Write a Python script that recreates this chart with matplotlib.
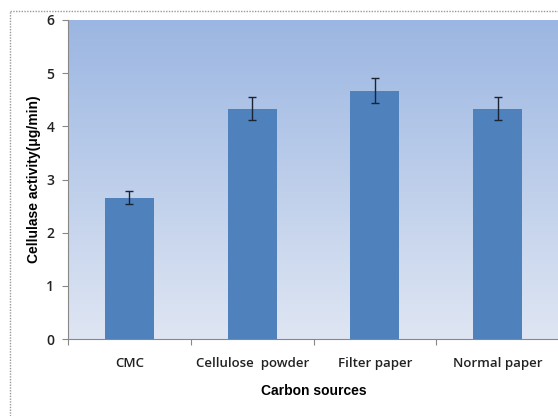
import numpy as np
import matplotlib.pyplot as plt
from matplotlib.colors import LinearSegmentedColormap
from matplotlib.lines import Line2D

# dados
fontes = ['CMC', 'Cellulose  powder', 'Filter paper', 'Normal paper']
atividade = [2.66, 4.33, 4.67, 4.33]
erro = [0.13, 0.22, 0.23, 0.22]

fig = plt.figure(figsize=(5.58, 4.16), dpi=100)
ax = fig.add_axes([0.1219, 0.185, 0.8800, 0.767])

# fundo em degradê (estilo Excel)
grad = LinearSegmentedColormap.from_list('fundo', ['#dfe6f3', '#9bb6e2'])
ax.imshow(np.linspace(0, 1, 256).reshape(-1, 1), cmap=grad, origin='lower',
          aspect='auto', extent=(-0.5, 3.5, 0, 6), zorder=0)

x = np.arange(len(fontes))
ax.bar(x, atividade, width=0.4, color='#4f81bd', zorder=2)
ax.errorbar(x, atividade, yerr=erro, fmt='none', ecolor='#1a2433',
            elinewidth=1, capsize=3, capthick=1, zorder=3)

ax.set_xlim(-0.5, 3.5)
ax.set_ylim(0, 6)
ax.set_yticks(range(7))
ax.set_yticklabels([str(i) for i in range(7)], fontsize=10, family='Open Sans',
                   fontweight='semibold', color='#222222')

# marcas nas divisões das categorias, rótulos no centro
ax.set_xticks(np.arange(-0.5, 4, 1))
ax.set_xticklabels([])
ax.set_xticks(x, minor=True)
ax.set_xticklabels(fontes, minor=True, fontsize=9.5, family='Open Sans',
                   fontweight='semibold', color='#222222')
ax.tick_params(axis='x', which='minor', length=0, pad=13)
ax.tick_params(axis='x', which='major', length=4, color='#888888', direction='out')
ax.tick_params(axis='y', length=4, color='#888888', direction='out', pad=6)

for lado in ['top', 'right']:
    ax.spines[lado].set_visible(False)
for lado in ['left', 'bottom']:
    ax.spines[lado].set_color('#888888')

ax.set_xlabel('Carbon sources', fontsize=10, fontweight='bold',
              family='Liberation Sans', labelpad=10)
ax.set_ylabel('Cellulase activity(μg/min)', fontsize=10, fontweight='bold',
              family='Liberation Sans', labelpad=4)

# moldura pontilhada do gráfico
fig.add_artist(Line2D([10/558, 10/558], [0, 1 - 11/416], color='#999999',
                      lw=1, ls=(0, (1, 1)), transform=fig.transFigure))
fig.add_artist(Line2D([10/558, 1], [1 - 11/416, 1 - 11/416], color='#999999',
                      lw=1, ls=(0, (1, 1)), transform=fig.transFigure))

fig.savefig('out.png', dpi=100)
